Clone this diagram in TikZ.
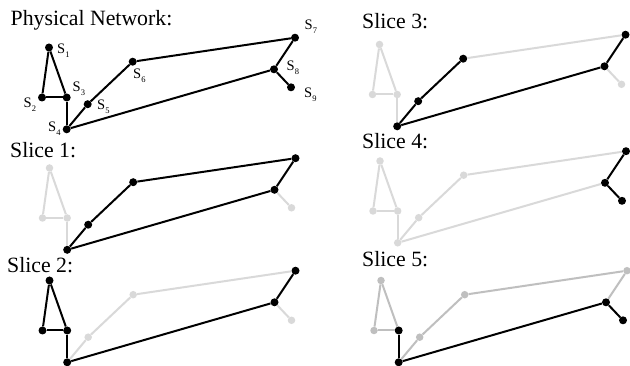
\documentclass[tikz,border=0pt]{standalone}
\usepackage{fontspec}
\setmainfont{Liberation Serif}
\definecolor{lgray}{HTML}{D9D9D9}
\definecolor{mgray}{HTML}{BFBFBF}
\tikzset{
  dk/.style={circle,fill=black,inner sep=0pt,minimum size=8pt},
  lg/.style={circle,fill=lgray,inner sep=0pt,minimum size=7.5pt},
  mg/.style={circle,fill=mgray,inner sep=0pt,minimum size=7.5pt},
  ek/.style={draw=black,line width=2pt},
  el/.style={draw=lgray,line width=2pt},
  em/.style={draw=mgray,line width=2pt},
  ttl/.style={anchor=base west,inner sep=0pt,font=\fontsize{21.8}{22}\selectfont},
  lab/.style={anchor=base west,inner sep=0pt,font=\fontsize{14.5}{15}\selectfont}
}
\newcommand\lbl[1]{S\raisebox{-3.8pt}{\fontsize{8.5}{9}\selectfont #1}}
% nodes of one network copy, prefix \pf
\newcommand\netnodes[9]{%
  \node[#1] (\pf1) at (49,47.5) {};
  \node[#2] (\pf2) at (42,97.5) {};
  \node[#3] (\pf3) at (66.7,97.5) {};
  \node[#4] (\pf4) at (66.7,129.3) {};
  \node[#5] (\pf5) at (87.7,104.2) {};
  \node[#6] (\pf6) at (132.7,61.7) {};
  \node[#7] (\pf7) at (295,37.7) {};
  \node[#8] (\pf8) at (274,69.3) {};
  \node[#9] (\pf9) at (291,87.3) {};
}
\newcommand\ed[3]{\draw[#1] (\pf#2) -- (\pf#3);}
\begin{document}
\begin{tikzpicture}[x=1pt,y=-1pt]
\useasboundingbox (0,0) rectangle (630,366);
\fill[white] (0,0) rectangle (630,366);

% ---------- Physical network ----------
\node[ttl] (tP) at (10.5,25.5) {Physical Network:};
\begin{scope}
\def\pf{P}
\netnodes{dk}{dk}{dk}{dk}{dk}{dk}{dk}{dk}{dk}
\ed{ek}{1}{2}\ed{ek}{1}{3}\ed{ek}{2}{3}\ed{ek}{3}{4}\ed{ek}{4}{5}
\ed{ek}{5}{6}\ed{ek}{6}{7}\ed{ek}{7}{8}\ed{ek}{8}{9}\ed{ek}{4}{8}
\end{scope}
\node[lab] (L1) at (57,53.5) {\lbl{1}};
\node[lab] (L2) at (23.5,107.7) {\lbl{2}};
\node[lab] (L3) at (72.5,92) {\lbl{3}};
\node[lab] (L4) at (48,132) {\lbl{4}};
\node[lab] (L5) at (97,109.5) {\lbl{5}};
\node[lab] (L6) at (133,78.5) {\lbl{6}};
\node[lab] (L7) at (304.5,30) {\lbl{7}};
\node[lab] (L8) at (286.5,70.5) {\lbl{8}};
\node[lab] (L9) at (304,97.5) {\lbl{9}};

% ---------- Slice 1 ----------
\node[ttl] (t1) at (10,158) {Slice 1:};
\begin{scope}[shift={(0.5,120.5)}]
\def\pf{A}
\netnodes{lg}{lg}{lg}{dk}{dk}{dk}{dk}{dk}{lg}
\ed{el}{1}{2}\ed{el}{1}{3}\ed{el}{2}{3}\ed{el}{3}{4}\ed{el}{8}{9}
\ed{ek}{4}{5}\ed{ek}{5}{6}\ed{ek}{6}{7}\ed{ek}{7}{8}\ed{ek}{4}{8}
\end{scope}

% ---------- Slice 2 ----------
\node[ttl] (t2) at (7,273) {Slice 2:};
\begin{scope}[shift={(0.5,233)}]
\def\pf{B}
\netnodes{dk}{dk}{dk}{dk}{lg}{lg}{dk}{dk}{lg}
\ed{el}{4}{5}\ed{el}{5}{6}\ed{el}{6}{7}\ed{el}{8}{9}
\ed{ek}{1}{2}\ed{ek}{1}{3}\ed{ek}{2}{3}\ed{ek}{3}{4}\ed{ek}{4}{8}\ed{ek}{7}{8}
\end{scope}

% ---------- Slice 3 ----------
\node[ttl] (t3) at (362,29) {Slice 3:};
\begin{scope}[shift={(330.5,-3)}]
\def\pf{C}
\netnodes{lg}{lg}{lg}{dk}{dk}{dk}{dk}{dk}{lg}
\ed{el}{1}{2}\ed{el}{1}{3}\ed{el}{2}{3}\ed{el}{3}{4}\ed{el}{6}{7}\ed{el}{8}{9}
\ed{ek}{4}{5}\ed{ek}{5}{6}\ed{ek}{4}{8}\ed{ek}{7}{8}
\end{scope}

% ---------- Slice 4 ----------
\node[ttl] (t4) at (362,149) {Slice 4:};
\begin{scope}[shift={(331,113.5)}]
\def\pf{D}
\netnodes{lg}{lg}{lg}{lg}{lg}{lg}{dk}{dk}{dk}
\ed{el}{1}{2}\ed{el}{1}{3}\ed{el}{2}{3}\ed{el}{3}{4}\ed{el}{4}{5}
\ed{el}{5}{6}\ed{el}{6}{7}\ed{el}{4}{8}
\ed{ek}{7}{8}\ed{ek}{8}{9}
\end{scope}

% ---------- Slice 5 ----------
\node[ttl] (t5) at (362,266.7) {Slice 5:};
\begin{scope}[shift={(332,233)}]
\def\pf{E}
\netnodes{mg}{mg}{dk}{dk}{mg}{mg}{mg}{dk}{dk}
\ed{em}{1}{2}\ed{em}{1}{3}\ed{em}{2}{3}\ed{em}{4}{5}
\ed{em}{5}{6}\ed{em}{6}{7}\ed{em}{7}{8}
\ed{ek}{3}{4}\ed{ek}{4}{8}\ed{ek}{8}{9}
\end{scope}
\end{tikzpicture}
\end{document}
